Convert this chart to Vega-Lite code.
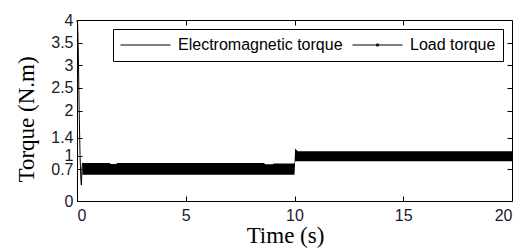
{
  "$schema": "https://vega.github.io/schema/vega-lite/v6.json",
  "width": 435,
  "height": 181,
  "autosize": {"type": "none"},
  "padding": {"left": 77, "top": 20, "right": 10, "bottom": 49},
  "background": "white",
  "config": {
    "view": {"stroke": "black", "strokeWidth": 1},
    "axis": {
      "grid": false,
      "zindex": 1,
      "domainColor": "black",
      "tickColor": "black",
      "tickSize": 5,
      "tickWidth": 1,
      "labelFont": "Liberation Sans",
      "labelFontSize": 16,
      "labelColor": "#1a1a2e",
      "labelOverlap": false,
      "titleFont": "Liberation Serif",
      "titleFontSize": 23,
      "titleFontWeight": "normal",
      "titleColor": "black"
    },
    "legend": {
      "orient": "top-right",
      "direction": "horizontal",
      "offset": 9,
      "strokeColor": "black",
      "fillColor": "white",
      "padding": 7,
      "labelFont": "Liberation Sans",
      "labelFontSize": 16,
      "labelColor": "black",
      "labelLimit": 400,
      "symbolSize": 2500,
      "clipHeight": 18,
      "labelOffset": 7,
      "columnPadding": 9,
      "symbolStrokeColor": "black",
      "symbolStrokeWidth": 1
    }
  },
  "datasets": {
    "band": [
      {"t": 0.25, "lo": 0.58, "hi": 0.84},
      {"t": 1.5, "lo": 0.58, "hi": 0.84},
      {"t": 1.55, "lo": 0.58, "hi": 0.82},
      {"t": 1.8, "lo": 0.58, "hi": 0.82},
      {"t": 1.85, "lo": 0.58, "hi": 0.84},
      {"t": 8.6, "lo": 0.58, "hi": 0.84},
      {"t": 8.65, "lo": 0.58, "hi": 0.81},
      {"t": 9.0, "lo": 0.58, "hi": 0.81},
      {"t": 9.05, "lo": 0.58, "hi": 0.83},
      {"t": 10.0, "lo": 0.58, "hi": 0.83},
      {"t": 10.03, "lo": 0.88, "hi": 1.16},
      {"t": 10.15, "lo": 0.88, "hi": 1.1},
      {"t": 20, "lo": 0.88, "hi": 1.1}
    ],
    "transient": [
      {"t": 0, "v": 4.0},
      {"t": 0.03, "v": 3.9},
      {"t": 0.06, "v": 3.3},
      {"t": 0.1, "v": 2.0},
      {"t": 0.14, "v": 1.0},
      {"t": 0.18, "v": 0.45},
      {"t": 0.2, "v": 0.35},
      {"t": 0.23, "v": 0.7},
      {"t": 0.25, "v": 0.84}
    ],
    "load": [
      {"t": 1, "v": 0.7, "series": "Load torque"},
      {"t": 3, "v": 0.7, "series": "Load torque"},
      {"t": 5, "v": 0.7, "series": "Load torque"},
      {"t": 7, "v": 0.7, "series": "Load torque"},
      {"t": 9, "v": 0.7, "series": "Load torque"},
      {"t": 11, "v": 1.0, "series": "Load torque"},
      {"t": 13, "v": 1.0, "series": "Load torque"},
      {"t": 15, "v": 1.0, "series": "Load torque"},
      {"t": 17, "v": 1.0, "series": "Load torque"},
      {"t": 19, "v": 1.0, "series": "Load torque"}
    ]
  },
  "layer": [
    {
      "data": {"name": "band"},
      "mark": {"type": "area", "color": "black"},
      "encoding": {
        "x": {"field": "t", "type": "quantitative", "scale": {"domain": [0, 20], "nice": false},
              "axis": {"orient": "bottom", "values": [0, 5, 10, 15, 20], "ticks": false, "title": "Time (s)", "labelPadding": 6, "titlePadding": 1, "titleX": 208}},
        "y": {"field": "lo", "type": "quantitative", "scale": {"domain": [0, 4], "nice": false, "zero": false},
              "axis": {"orient": "left", "values": [0, 0.7, 1, 1.4, 2, 2.5, 3, 3.5, 4], "ticks": false, "format": "~g", "title": "Torque (N.m)", "labelPadding": 4, "titlePadding": 12, "titleY": 99}},
        "y2": {"field": "hi"}
      }
    },
    {
      "data": {"name": "transient"},
      "mark": {"type": "line", "color": "black", "strokeWidth": 1},
      "encoding": {
        "x": {"field": "t", "type": "quantitative", "axis": {"orient": "top", "offset": -181, "values": [5, 10, 15], "labels": false, "title": null, "domain": false}},
        "y": {"field": "v", "type": "quantitative", "axis": {"orient": "right", "offset": -435, "values": [0.7, 1, 1.4, 2, 2.5, 3, 3.5], "labels": false, "title": null, "domain": false}}
      }
    },
    {
      "data": {"name": "load"},
      "mark": {"type": "point", "filled": false, "stroke": "black", "strokeWidth": 1, "opacity": 1, "size": 4},
      "encoding": {
        "x": {"field": "t", "type": "quantitative", "axis": {"orient": "bottom", "offset": -181, "values": [5, 10, 15], "labels": false, "title": null, "domain": false}},
        "y": {"field": "v", "type": "quantitative", "axis": {"orient": "left", "offset": -435, "values": [0.7, 1, 1.4, 2, 2.5, 3, 3.5], "labels": false, "title": null, "domain": false}},
        "shape": {
          "field": "series", "type": "nominal",
          "scale": {"domain": ["Electromagnetic torque", "Load torque"],
                    "range": ["M-1,0H1", "M-1,0H1M-0.04,-0.04H0.04V0.04H-0.04Z"]},
          "legend": {"title": null, "symbolSize": 2500, "clipHeight": 18,
                     "symbolStrokeColor": "black", "symbolStrokeWidth": 1}
        }
      }
    }
  ],
  "resolve": {"axis": {"x": "independent", "y": "independent"}}
}
